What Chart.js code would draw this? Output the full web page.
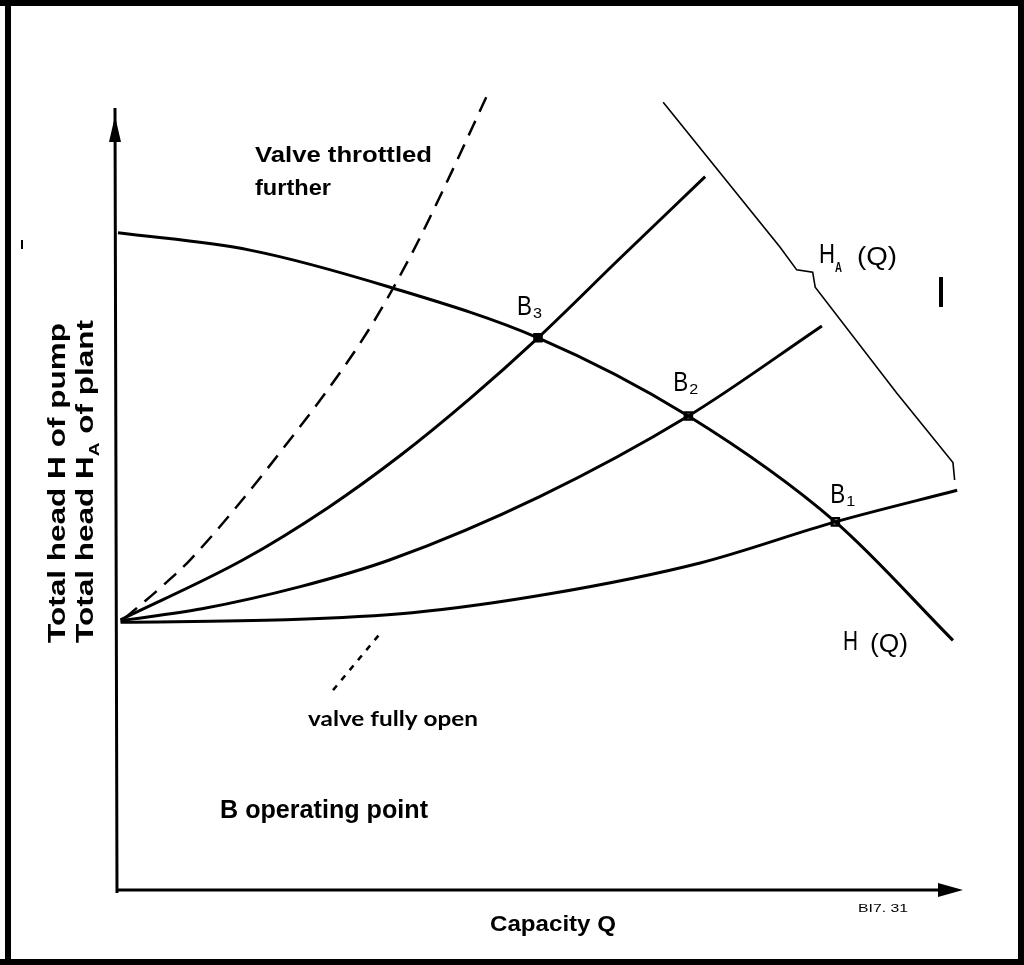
<!DOCTYPE html>
<html>
<head>
<meta charset="utf-8">
<script src="https://cdn.jsdelivr.net/npm/chart.js@4"></script>
<style>
  html, body { margin: 0; padding: 0; background: #fff; }
  canvas { display: block; }
</style>
</head>
<body>
<canvas id="grafico" width="1024" height="965"></canvas>
<script>
// pump curve H(Q)
const pumpQ = [0, 15.7, 32.4, 50.0, 67.9, 85.4, 99.4];
const pumpH = [83.2, 81.0, 76.3, 69.9, 60.0, 46.6, 31.6];

// plant curves (valve more and more throttled)
const sys1Q = [0.3, 20, 35, 51.4, 69.3, 85.4, 99.9];
const sys1H = [33.9, 34.2, 35.1, 37.5, 41.4, 46.6, 50.6];
const sys2Q = [0.3, 10, 21.7, 32.4, 50.2, 67.9, 83.8];
const sys2H = [34.1, 35.6, 38.4, 41.8, 49.8, 60.0, 71.4];
const sys3Q = [0.3, 14.9, 25, 33.6, 42, 50.0, 59.8, 69.9];
const sys3H = [34.2, 41.8, 48.4, 55.0, 62.3, 69.9, 80.0, 90.3];
const throttledQ = [0.8, 5.2, 8.6, 19.3, 29.6, 35.0, 38.7, 42.3, 43.9];
const throttledH = [34.4, 38.4, 41.8, 55.4, 70.5, 80.6, 88.6, 96.8, 100.5];

// plant curve HA(Q)
const plantQ = [64.9, 78.8, 80.8, 82.7, 83.0, 92.7, 99.4, 99.6];
const plantH = [99.7, 81.4, 78.5, 78.2, 76.3, 62.9, 54.1, 51.9];

// operating points B3, B2, B1
const pointQ = [50.0, 67.9, 85.4];
const pointH = [69.9, 60.0, 46.6];
const pointLabels = ['3', '2', '1'];

// leader from "valve fully open"
const leaderQ = [25.6, 31.0];
const leaderH = [25.3, 32.2];

const pares = (qs, hs) => qs.map((q, i) => ({ x: q, y: hs[i] }));

function texto(ctx, str, x, y, size, weight, family, largura) {
  ctx.save();
  ctx.font = weight + ' ' + size + 'px ' + family;
  const w = ctx.measureText(str).width;
  const sx = largura ? largura / w : 1;
  ctx.translate(x, y);
  ctx.scale(sx, 1);
  ctx.fillText(str, 0, 0);
  ctx.restore();
}

const desenhos = {
  id: 'desenhos',
  beforeDatasetsDraw(chart) {
    const ctx = chart.ctx;
    const sx = chart.scales.x, sy = chart.scales.y;
    const x0 = sx.getPixelForValue(0) - 1;
    const y0 = sy.getPixelForValue(0);
    ctx.save();
    ctx.strokeStyle = '#000';
    ctx.fillStyle = '#000';
    ctx.lineWidth = 3;
    ctx.beginPath();
    ctx.moveTo(x0, y0 + 3);
    ctx.lineTo(x0 - 2, 108);
    ctx.moveTo(x0, y0);
    ctx.lineTo(942, y0);
    ctx.stroke();
    // arrows
    ctx.beginPath();
    ctx.moveTo(x0 - 2, 116);
    ctx.lineTo(x0 - 8, 142);
    ctx.lineTo(x0 + 4, 142);
    ctx.closePath();
    ctx.fill();
    ctx.beginPath();
    ctx.moveTo(963, y0);
    ctx.lineTo(938, y0 - 7);
    ctx.lineTo(938, y0 + 7);
    ctx.closePath();
    ctx.fill();
    ctx.restore();
  },
  afterDraw(chart) {
    const ctx = chart.ctx;
    ctx.save();
    ctx.fillStyle = '#000';
    // frame
    ctx.fillRect(0, 0, 1024, 6);
    ctx.fillRect(5, 0, 6, 965);
    ctx.fillRect(0, 959, 1024, 6);
    ctx.fillRect(1018, 0, 6, 965);

    ctx.textBaseline = 'alphabetic';
    const f = '"Liberation Sans", Arial, sans-serif';
    texto(ctx, 'Valve throttled', 255, 162, 22, 'bold', f, 177);
    texto(ctx, 'further', 255, 195, 22, 'bold', f, 76);
    texto(ctx, 'valve fully open', 308, 726, 21, 'bold', 'Lato, sans-serif', 170);
    texto(ctx, 'B operating point', 220, 818, 25, 'bold', f, 208);
    texto(ctx, 'Capacity Q', 490, 931, 22, 'bold', f, 126);
    texto(ctx, 'BI7. 31', 858, 912, 11, 'normal', f, 50);

    // operating point labels
    const sx = chart.scales.x, sy = chart.scales.y;
    const offs = [[-21, -23], [-15, -25], [-5, -19]];
    pointQ.forEach((q, i) => {
      const px = sx.getPixelForValue(q) + offs[i][0];
      const py = sy.getPixelForValue(pointH[i]) + offs[i][1];
      texto(ctx, 'B', px, py, 28, 'normal', f, 15);
      texto(ctx, pointLabels[i], px + 16, py + 3, 15, 'normal', f, 9);
    });

    // curve names
    texto(ctx, 'H', 819, 263, 28, 'normal', f, 16);
    texto(ctx, 'A', 835, 272, 15, 'bold', f, 7);
    texto(ctx, '(Q)', 857, 265, 26, 'normal', f, 40);
    texto(ctx, 'H', 843, 650, 28, 'normal', f, 15);
    texto(ctx, '(Q)', 870, 652, 26, 'normal', f, 38);

    // stray marks of the scan
    ctx.fillRect(939, 277, 4, 30);
    ctx.fillRect(21, 240, 2, 9);

    // y axis titles
    ctx.save();
    ctx.translate(65, 643);
    ctx.rotate(-Math.PI / 2);
    texto(ctx, 'Total head H of pump', 0, 0, 23, 'bold', f, 320);
    ctx.restore();

    ctx.save();
    ctx.translate(93, 643);
    ctx.rotate(-Math.PI / 2);
    ctx.font = 'bold 23px ' + f;
    const a = 'Total head H', b = ' of plant';
    const wa = ctx.measureText(a).width, wb = ctx.measureText(b).width;
    ctx.font = 'bold 14px ' + f;
    const ws = ctx.measureText('A').width;
    const k = 323 / (wa + ws + wb);
    ctx.scale(k, 1);
    ctx.font = 'bold 23px ' + f;
    ctx.fillText(a, 0, 0);
    ctx.fillText(b, wa + ws, 0);
    ctx.font = 'bold 14px ' + f;
    ctx.fillText('A', wa, 6);
    ctx.restore();

    ctx.restore();
  }
};

const linha = (qs, hs, extra) => Object.assign({
  data: pares(qs, hs),
  showLine: true,
  borderColor: '#000',
  borderWidth: 3,
  pointRadius: 0,
  fill: false,
  clip: false,
  cubicInterpolationMode: 'monotone'
}, extra || {});

const ctx = document.getElementById('grafico').getContext('2d');

const grafico = new Chart(ctx, {
  type: 'scatter',
  data: {
    datasets: [
      linha(pumpQ, pumpH, { label: 'H(Q)' }),
      linha(sys1Q, sys1H, { label: 'B1' }),
      linha(sys2Q, sys2H, { label: 'B2' }),
      linha(sys3Q, sys3H, { label: 'B3' }),
      linha(throttledQ, throttledH, { label: 'throttled', borderWidth: 2.5, borderDash: [16, 10] }),
      linha(plantQ, plantH, { label: 'HA(Q)', borderWidth: 1.6, cubicInterpolationMode: 'default', tension: 0 }),
      linha(leaderQ, leaderH, { label: 'leader', borderWidth: 2.5, borderDash: [6, 7], cubicInterpolationMode: 'default', tension: 0 }),
      {
        label: 'B',
        data: pares(pointQ, pointH),
        showLine: false,
        pointStyle: 'rect',
        pointRadius: 5,
        pointBorderWidth: 2.5,
        pointBorderColor: '#000',
        pointBackgroundColor: ['#000', '#fff', '#fff'],
        clip: false
      }
    ]
  },
  options: {
    responsive: false,
    animation: false,
    devicePixelRatio: 1,
    layout: { padding: { left: 118, right: 66, top: 100, bottom: 75 } },
    scales: {
      x: { type: 'linear', min: 0, max: 100, display: false },
      y: { type: 'linear', min: 0, max: 100, display: false }
    },
    plugins: {
      legend: { display: false },
      tooltip: { enabled: false }
    }
  },
  plugins: [desenhos]
});
</script>
</body>
</html>
